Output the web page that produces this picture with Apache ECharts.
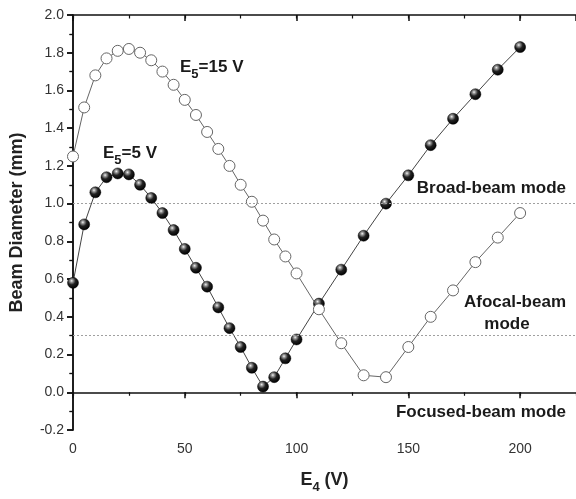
<!DOCTYPE html>
<html>
<head>
<meta charset="utf-8">
<script src="https://cdn.jsdelivr.net/npm/echarts@6/dist/echarts.min.js"></script>
<style>
html,body{margin:0;padding:0;background:#fff;}
#chart{width:576px;height:499px;}
</style>
</head>
<body>
<div id="chart"></div>
<script>
// E4 (V) values
var xLow = [0,5,10,15,20,25,30,35,40,45,50,55,60,65,70,75,80,85,90,95,100,110,120,130,140,150,160,170,180,190,200];
// Beam diameter (mm), E5 = 5 V (filled spheres)
var e5_5V = [0.58,0.89,1.06,1.14,1.16,1.155,1.10,1.03,0.95,0.86,0.76,0.66,0.56,0.45,0.34,0.24,0.13,0.03,0.08,0.18,0.28,0.47,0.65,0.83,1.00,1.15,1.31,1.45,1.58,1.71,1.83];
// Beam diameter (mm), E5 = 15 V (open circles)
var e5_15V = [1.25,1.51,1.68,1.77,1.81,1.82,1.80,1.76,1.70,1.63,1.55,1.47,1.38,1.29,1.20,1.10,1.01,0.91,0.81,0.72,0.63,0.44,0.26,0.09,0.08,0.24,0.40,0.54,0.69,0.82,0.95];
// mode boundary levels (mm)
var modeLines = [1.0, 0.305];
var xTickLabels = [0,50,100,150,200];
var yTickLabels = [-0.2,0.0,0.2,0.4,0.6,0.8,1.0,1.2,1.4,1.6,1.8,2.0];

function pairs(xs, ys){ return xs.map(function(x,i){ return [x, ys[i]]; }); }

var FONT = '"Liberation Sans", Arial, sans-serif';
var chart = echarts.init(document.getElementById('chart'), null, {renderer:'canvas'});

var axisLineStyle = {color:'#111', width:1.5};
var xBase = {type:'value', min:0, max:225, gridIndex:0};
var yBase = {type:'value', min:-0.2, max:2.0, gridIndex:0};

var sphere = {
  type:'radial', x:0.38, y:0.32, r:0.68,
  colorStops:[{offset:0,color:'#f2f2f2'},{offset:0.18,color:'#9a9a9a'},{offset:0.5,color:'#222'},{offset:1,color:'#000'}]
};

var option = {
  backgroundColor:'#fff',
  animation:false,
  grid:{left:73, top:15, width:505, height:420, containLabel:false},
  xAxis:[
    Object.assign({}, xBase, {position:'bottom', interval:50,
      axisLine:{show:true, lineStyle:axisLineStyle},
      axisTick:{show:true, inside:false, length:6, lineStyle:{color:'#111', width:1.5}},
      axisLabel:{show:true, showMaxLabel:false, fontFamily:FONT, fontSize:14, color:'#333', margin:12,
        formatter:function(v){ return xTickLabels.indexOf(v)>=0 ? String(v) : ''; }},
      splitLine:{show:false},
      name:'{a|E}{s|4}{a| (V)}', nameLocation:'middle', nameGap:36,
      nameTextStyle:{rich:{
        a:{fontFamily:FONT, fontSize:18, fontWeight:'bold', color:'#222', lineHeight:28, verticalAlign:'middle'},
        s:{fontFamily:FONT, fontSize:13, fontWeight:'bold', color:'#222', lineHeight:13, verticalAlign:'bottom'}
      }}
    }),
    Object.assign({}, xBase, {position:'bottom', interval:25,
      axisLine:{show:false}, axisTick:{show:true, inside:false, length:3.5, lineStyle:{color:'#111', width:1.2}},
      axisLabel:{show:false}, splitLine:{show:false}}),
    Object.assign({}, xBase, {position:'top', interval:50,
      axisLine:{show:true, lineStyle:axisLineStyle},
      axisTick:{show:true, inside:true, length:6, lineStyle:{color:'#111', width:1.5}},
      axisLabel:{show:false}, splitLine:{show:false}}),
    Object.assign({}, xBase, {position:'top', interval:25,
      axisLine:{show:false}, axisTick:{show:true, inside:true, length:3.5, lineStyle:{color:'#111', width:1.2}},
      axisLabel:{show:false}, splitLine:{show:false}})
  ],
  yAxis:[
    Object.assign({}, yBase, {position:'left', interval:0.2,
      axisLine:{show:true, lineStyle:axisLineStyle},
      axisTick:{show:true, inside:false, length:6, lineStyle:{color:'#111', width:1.5}},
      minorTick:{show:true, splitNumber:2, length:3.5, lineStyle:{color:'#111', width:1.2}},
      axisLabel:{show:true, fontFamily:FONT, fontSize:14, color:'#333', margin:9,
        formatter:function(v){ return (Math.round(v*10)/10).toFixed(1); }},
      splitLine:{show:false},
      name:'Beam Diameter (mm)', nameLocation:'middle', nameGap:47, nameRotate:90,
      nameTextStyle:{fontFamily:FONT, fontSize:18, fontWeight:'bold', color:'#222'}
    }),
    Object.assign({}, yBase, {position:'right', interval:0.2,
      axisLine:{show:true, lineStyle:axisLineStyle},
      axisTick:{show:true, inside:true, length:6, lineStyle:{color:'#111', width:1.5}},
      minorTick:{show:true, splitNumber:2, length:3.5, lineStyle:{color:'#111', width:1.2}},
      axisLabel:{show:false}, splitLine:{show:false}})
  ],
  series:[
    {
      name:'E5=5 V', type:'line', xAxisIndex:0, yAxisIndex:0,
      data:pairs(xLow, e5_5V),
      symbol:'circle', symbolSize:11, showAllSymbol:true,
      lineStyle:{color:'#444', width:1},
      itemStyle:{color:sphere, borderColor:'#000', borderWidth:0.5},
      markLine:{
        silent:true, symbol:['none','none'], label:{show:false},
        lineStyle:{type:[2,2], color:'#a0a0a0', width:1},
        data:modeLines.map(function(v){ return {yAxis:v}; })
      },
      z:3
    },
    {
      name:'E5=15 V', type:'line', xAxisIndex:0, yAxisIndex:0,
      data:pairs(xLow, e5_15V),
      symbol:'circle', symbolSize:11, showAllSymbol:true,
      lineStyle:{color:'#666', width:1},
      itemStyle:{color:'#fff', borderColor:'#666', borderWidth:1},
      z:4
    }
  ],
  graphic:[]
};
chart.setOption(option);

var rich = {
  a:{fontFamily:FONT, fontSize:17, fontWeight:'bold', fill:'#1a1a1a', lineHeight:28, verticalAlign:'middle'},
  s:{fontFamily:FONT, fontSize:13, fontWeight:'bold', fill:'#1a1a1a', lineHeight:13, verticalAlign:'bottom'}
};
function txt(x, y, text, align, r){
  return {type:'text', x:x, y:y, z:100, style:{text:text, fontFamily:FONT, fontSize:17, fontWeight:'bold', fill:'#1a1a1a', textAlign:align, textVerticalAlign:'middle', rich:r}};
}
chart.setOption({graphic:[
  txt(180, 67, '{a|E}{s|5}{a|=15 V}', 'left', rich),
  txt(103, 153, '{a|E}{s|5}{a|=5 V}', 'left', rich),
  txt(566, 188, 'Broad-beam mode', 'right'),
  txt(566, 302, 'Afocal-beam', 'right'),
  txt(507, 324, 'mode', 'center'),
  txt(566, 412, 'Focused-beam mode', 'right')
]});
</script>
</body>
</html>
